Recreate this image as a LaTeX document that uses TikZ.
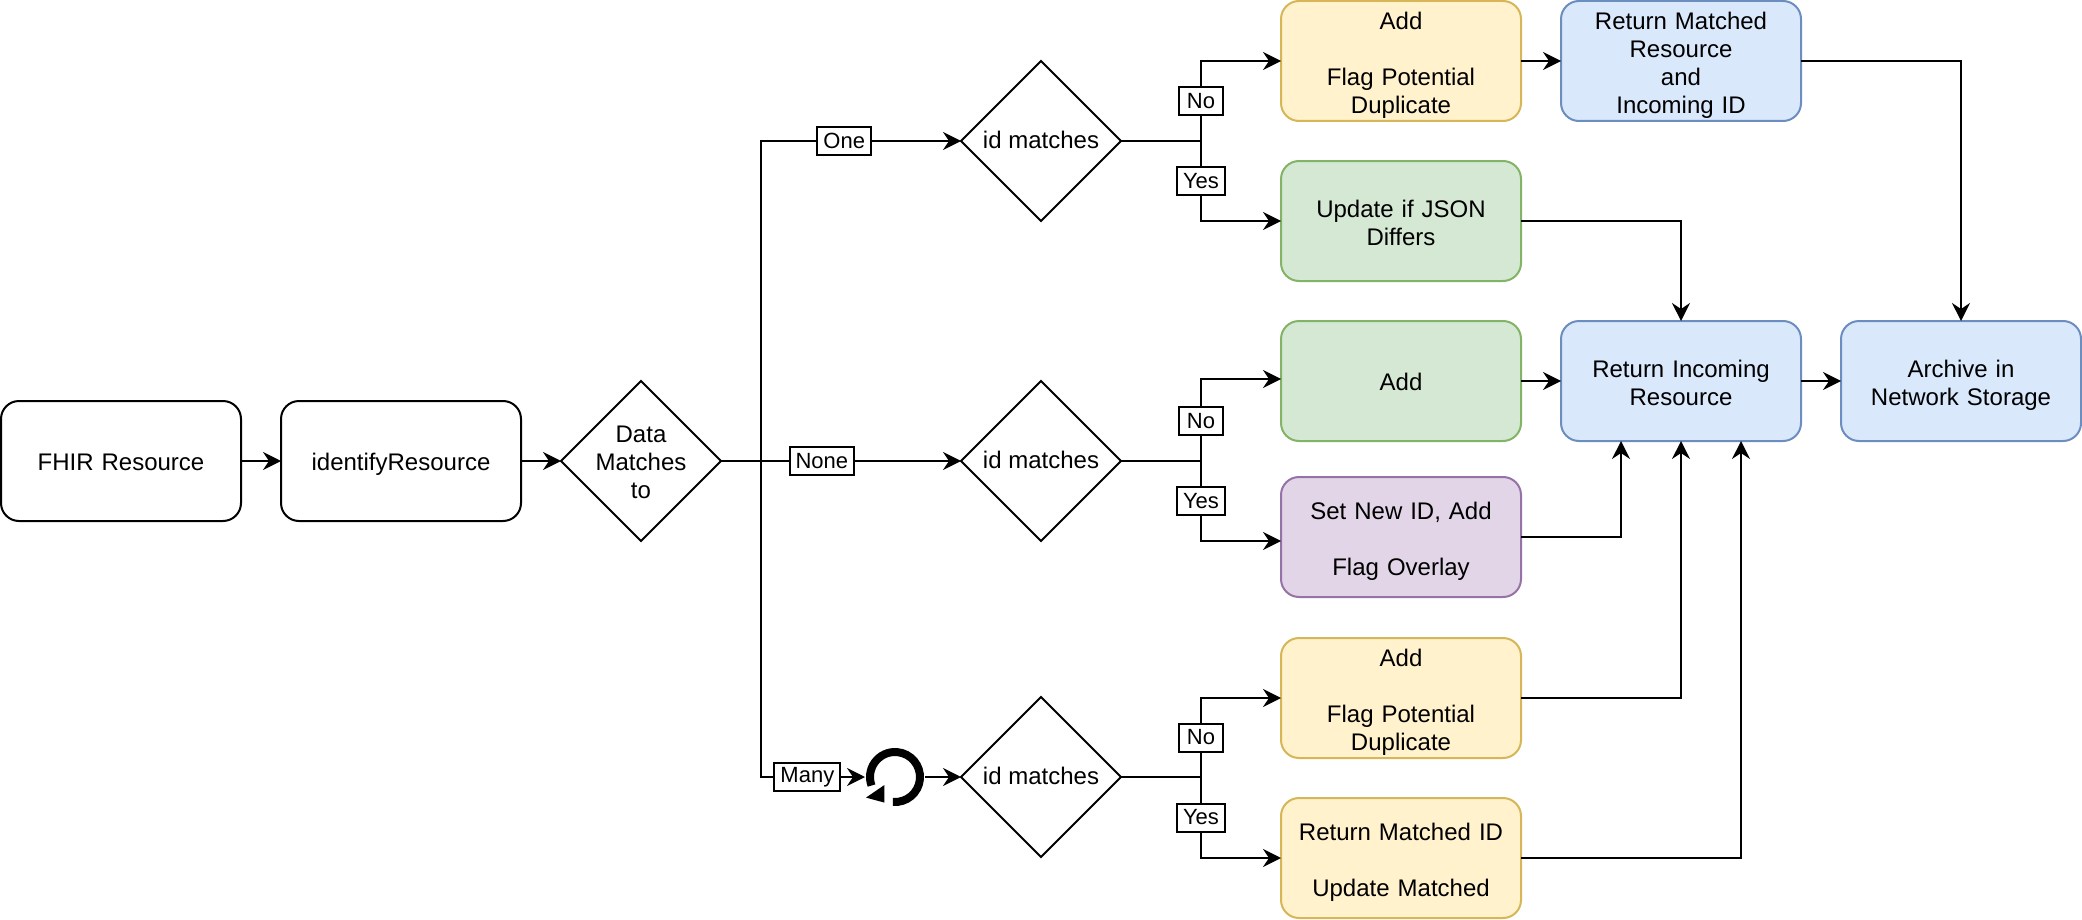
\documentclass[tikz,border=0pt]{standalone}
\usepackage{fontspec}
\setmainfont{Liberation Sans}
\usetikzlibrary{arrows.meta,calc,positioning,shapes.geometric}
\definecolor{yellowFill}{HTML}{FFF2CC}
\definecolor{yellowLine}{HTML}{D6B656}
\definecolor{greenFill}{HTML}{D5E8D4}
\definecolor{greenLine}{HTML}{82B366}
\definecolor{blueFill}{HTML}{DAE8FC}
\definecolor{blueLine}{HTML}{6C8EBF}
\definecolor{purpleFill}{HTML}{E1D5E7}
\definecolor{purpleLine}{HTML}{9673A6}
\newcommand{\boxtopstrut}{\rule{0pt}{12.7pt}}
\newcommand{\boxbotstrut}{\rule[-2.5pt]{0pt}{2.5pt}}
\newcommand{\boxonestrut}{\rule[-3.4pt]{0pt}{14pt}}
\tikzset{
    step box/.style = {
        draw,
        rounded corners=9pt,
        minimum width=120pt,
        minimum height=60pt,
        text width=120pt,
        align=center,
        inner sep=0pt,
        outer sep=0pt,
        font=\fontsize{12}{14}\selectfont,
        execute at begin node=\boxtopstrut,
        execute at end node=\boxbotstrut,
        },
    one line/.style = {
        execute at begin node=\boxonestrut,
        execute at end node={},
        },
    yellow box/.style = {
        step box,
        draw = yellowLine,
        fill = yellowFill,
        },
    green box/.style = {
        step box,
        draw = greenLine,
        fill = greenFill,
        },
    blue box/.style = {
        step box,
        draw = blueLine,
        fill = blueFill,
        },
    purple box/.style = {
        step box,
        draw = purpleLine,
        fill = purpleFill,
        },
    decision/.style = {
        draw,
        diamond,
        shape aspect=1,
        minimum size=80pt,
        inner sep=0pt,
        outer sep=0pt,
        font=\fontsize{12}{14}\selectfont,
        },
    flow/.style = {
        -{Stealth[length=9pt,width=9pt,inset=3pt]},
        },
    edge tag/.style = {
        draw,
        fill = white,
        font=\fontsize{11}{13}\selectfont,
        inner xsep=3pt,
        inner ysep=0pt,
        outer sep=0pt,
        minimum width=22pt,
        minimum height=14pt,
        },
}
\begin{document}
\begin{tikzpicture}[
                line width=1pt,
                node distance = 20pt,
            ]
            \useasboundingbox (0,0) rectangle (1041pt,-460pt);

            % middle row
            \node [step box,one line] (fhir) at (60.5pt,-230.5pt) {FHIR Resource};
            \node [step box,one line,right=of fhir] (identify) {identifyResource};
            \node [decision,label={[align=center,font=\fontsize{12}{14}\selectfont,yshift=-0.9pt]center:Data\\Matches\\to},right=of identify] (data) {};
            \node [decision,one line,right=120pt of data] (idNone) {id matches};
            \node [decision,one line,above=80pt of idNone] (idOne) {id matches};
            \node [decision,one line,below=78pt of idNone] (idMany) {id matches};
            \node [minimum size=30pt,inner sep=0pt,outer sep=0pt,left=18pt of idMany] (loop) {};

            % result boxes
            \node [yellow box,right=80pt of idOne,yshift=40pt] (addFlag) {Add\\[14pt]Flag Potential\\Duplicate};
            \node [green box,right=80pt of idOne,yshift=-40pt] (update) {Update if JSON\\Differs};
            \node [green box,one line,right=80pt of idNone,yshift=40pt] (addNew) {Add};
            \node [purple box,right=80pt of idNone,yshift=-38pt] (setId) {Set New ID, Add\\[14pt]Flag Overlay};
            \node [yellow box,right=80pt of idMany,yshift=39.5pt] (addFlagMany) {Add\\[14pt]Flag Potential\\Duplicate};
            \node [yellow box,right=80pt of idMany,yshift=-40.5pt] (returnId) {Return Matched ID\\[14pt]Update Matched};

            \node [blue box,right=of addFlag] (returnMatched) {Return Matched\\Resource\\and\\Incoming ID};
            \node [blue box,right=of addNew] (returnIncoming) {Return Incoming\\Resource};
            \node [blue box,right=of returnIncoming] (archive) {Archive in\\Network Storage};

            % loop icon
            \draw [line width=4pt] ($(loop.center)+(-95:12.5pt)$) arc [start angle=-95,delta angle=295,radius=12.5pt];
            \fill ($(loop.center)+(-5.3pt,-4pt)$) -- ($(loop.center)+(-5.3pt,-12.8pt)$) -- ($(loop.center)+(-14.5pt,-10.3pt)$) -- cycle;

            % forks
            \coordinate [right=20pt of data.east] (forkData);
            \coordinate [right=40pt of idOne.east] (forkOne);
            \coordinate [right=40pt of idNone.east] (forkNone);
            \coordinate [right=40pt of idMany.east] (forkMany);

            \draw[flow] (fhir) -- (identify);
            \draw[flow] (identify) -- (data);

            % data matches arrows
            \draw[flow] (forkData) |- node[edge tag,pos=0.708] (tagOne) {One} (idOne.west);
            \draw[flow] (data.east) -- node[edge tag,pos=0.42] (tagNone) {None} (idNone.west);
            \draw[flow] (forkData) |- node[edge tag,pos=0.723] (tagMany) {Many} (loop.west);
            \draw[flow] (loop.east) -- (idMany.west);

            % id matches arrows
            \draw (idOne.east) -- (forkOne);
            \draw[flow] (forkOne) |- node[edge tag,pos=0.25] (noOne) {No} (addFlag.west);
            \draw[flow] (forkOne) |- node[edge tag,pos=0.25] (yesOne) {Yes} (update.west);
            \draw (idNone.east) -- (forkNone);
            \draw[flow] (forkNone) |- node[edge tag,pos=0.244] (noNone) {No} ([yshift=1pt] addNew.west);
            \draw[flow] (forkNone) |- node[edge tag,pos=0.25] (yesNone) {Yes} ([yshift=-2pt] setId.west);
            \draw (idMany.east) -- (forkMany);
            \draw[flow] (forkMany) |- node[edge tag,pos=0.25] (noMany) {No} (addFlagMany.west);
            \draw[flow] (forkMany) |- node[edge tag,pos=0.25] (yesMany) {Yes} (returnId.west);

            % result arrows
            \draw[flow] (addFlag) -- (returnMatched);
            \draw[flow] (addNew) -- (returnIncoming);
            \draw[flow] (returnIncoming) -- (archive);
            \draw[flow] (returnMatched.east) -| (archive.north);
            \draw[flow] (update.east) -| (returnIncoming.north);
            \draw[flow] (setId.east) -| ([xshift=-30pt] returnIncoming.south);
            \draw[flow] (addFlagMany.east) -| (returnIncoming.south);
            \draw[flow] (returnId.east) -| ([xshift=30pt] returnIncoming.south);
        \end{tikzpicture}
\end{document}
